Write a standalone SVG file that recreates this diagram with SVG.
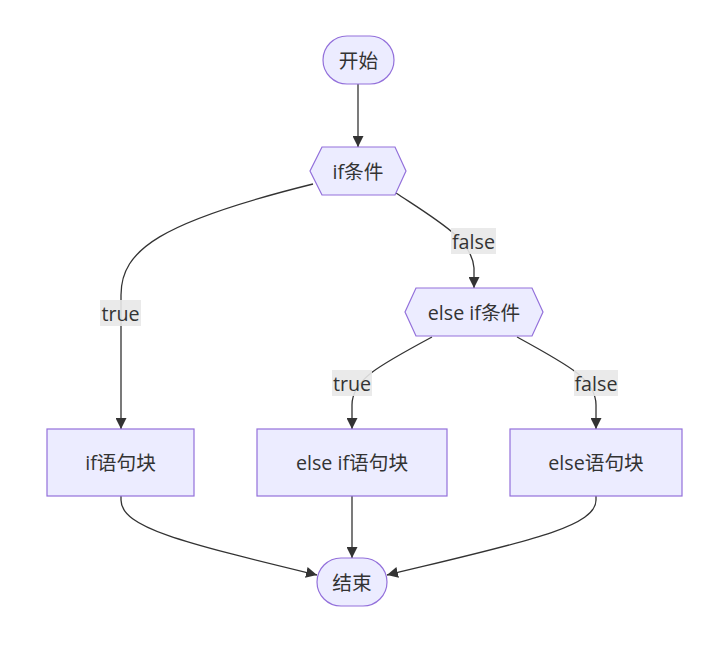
<svg xmlns="http://www.w3.org/2000/svg" width="718" height="671" viewBox="0 0 718 671">
<style>
.node{fill:#ECECFF;stroke:#9370DB;stroke-width:1.2}
.t{font-family:"Open Sans","Noto Sans CJK SC",sans-serif;font-size:19.7px;fill:#333;text-anchor:middle;dominant-baseline:central}
.e{fill:none;stroke:#333;stroke-width:1.3}
.lb{fill:#e8e8e8;opacity:0.9}
</style>
<defs>
<marker id="arr" viewBox="0 0 10 10" refX="10" refY="5" markerWidth="11" markerHeight="11" markerUnits="userSpaceOnUse" orient="auto">
<path d="M0,0 L10,5 L0,10 z" fill="#333"/>
</marker>
</defs>
<rect width="718" height="671" fill="#fff"/>
<g id="edges">
<path class="e" marker-end="url(#arr)" d="M358,84 L358,147"/>
<path class="e" marker-end="url(#arr)" d="M313,184 C160,222 121,250 121,295 L121,429"/>
<path class="e" marker-end="url(#arr)" d="M396,193 C440,222 472,240 474,268 L474,288"/>
<path class="e" marker-end="url(#arr)" d="M432,337 C378,366 352,380 352,405 L352,429"/>
<path class="e" marker-end="url(#arr)" d="M517,337 C570,366 596,380 596,405 L596,429"/>
<path class="e" marker-end="url(#arr)" d="M121,496 L121,500 C121,528 185,543 317,575"/>
<path class="e" marker-end="url(#arr)" d="M352,496 L352,558"/>
<path class="e" marker-end="url(#arr)" d="M596,496 L596,500 C596,528 520,543 387,575"/>
</g>
<g id="edge-labels">
<rect class="lb" x="100" y="300" width="41" height="26"/>
<text class="t" x="120.5" y="313">true</text>
<rect class="lb" x="451" y="228" width="45" height="26"/>
<text class="t" x="473.5" y="241">false</text>
<rect class="lb" x="332" y="370" width="40" height="26"/>
<text class="t" x="352" y="383">true</text>
<rect class="lb" x="574" y="370" width="44" height="26"/>
<text class="t" x="596" y="383">false</text>
</g>
<g id="start">
<rect class="node" x="323" y="36" width="71" height="48" rx="24" ry="24"/>
<text class="t" x="358.5" y="60">开始</text>
</g>
<g id="ifcond">
<polygon class="node" points="322,147 395,147 406,171 395,195 322,195 310,171"/>
<text class="t" x="358" y="171">if条件</text>
</g>
<g id="elseifcond">
<polygon class="node" points="416,288 532,288 543,312 532,336 416,336 405,312"/>
<text class="t" x="474" y="312">else if条件</text>
</g>
<g id="ifblock">
<rect class="node" x="47" y="429" width="147" height="67"/>
<text class="t" x="120.5" y="462.5">if语句块</text>
</g>
<g id="elseifblock">
<rect class="node" x="257" y="429" width="190" height="67"/>
<text class="t" x="352" y="462.5">else if语句块</text>
</g>
<g id="elseblock">
<rect class="node" x="510" y="429" width="172" height="67"/>
<text class="t" x="596" y="462.5">else语句块</text>
</g>
<g id="end">
<rect class="node" x="317" y="558" width="70" height="48" rx="24" ry="24"/>
<text class="t" x="352" y="582">结束</text>
</g>
</svg>
